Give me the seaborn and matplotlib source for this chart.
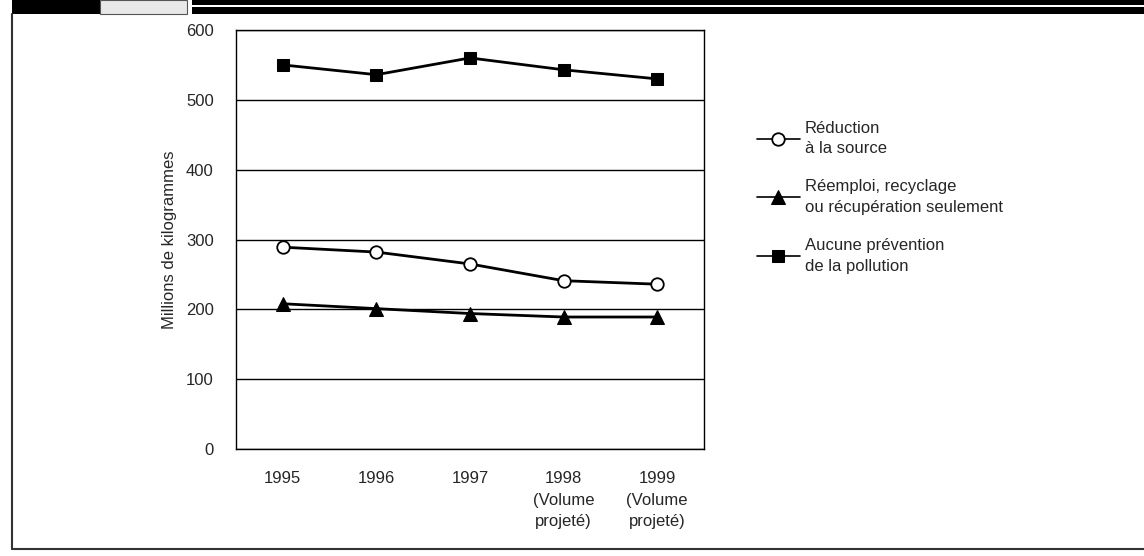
import numpy as np
import pandas as pd
import matplotlib
matplotlib.use('Agg')
import matplotlib.pyplot as plt
from matplotlib.patches import Rectangle
from matplotlib.lines import Line2D
import seaborn as sns

sns.set_style('white')
plt.rcParams['font.family'] = ['Liberation Sans Narrow', 'Liberation Sans', 'DejaVu Sans']

# Data
years = ['1995', '1996', '1997', '1998\n(Volume\nprojeté)', '1999\n(Volume\nprojeté)']
reduction = [289, 282, 265, 241, 236]
reemploi = [208, 201, 194, 189, 189]
aucune = [550, 536, 560, 543, 530]
labels = ['Réduction\nà la source',
          'Réemploi, recyclage\nou récupération seulement',
          'Aucune prévention\nde la pollution']

W, H = 1144, 556
fig = plt.figure(figsize=(W / 100, H / 100), dpi=100)

def fx(px):
    return px / W

def fy(py):
    return 1 - py / H

# header banner
fig.patches.append(Rectangle((fx(12), fy(14)), fx(88), 14 / H, transform=fig.transFigure,
                             facecolor='black', edgecolor='none'))
fig.patches.append(Rectangle((fx(100), fy(14)), fx(87), 14 / H, transform=fig.transFigure,
                             facecolor='#e8e8e8', edgecolor='#555555', lw=0.8))
fig.patches.append(Rectangle((fx(192), fy(5)), fx(952), 5 / H, transform=fig.transFigure,
                             facecolor='black', edgecolor='none'))
fig.patches.append(Rectangle((fx(192), fy(14)), fx(952), 7 / H, transform=fig.transFigure,
                             facecolor='black', edgecolor='none'))
# frame
fig.lines.append(Line2D([fx(12), fx(12)], [fy(14), fy(549)], transform=fig.transFigure,
                        color='#333333', lw=1.5))
fig.lines.append(Line2D([fx(12), 1], [fy(549), fy(549)], transform=fig.transFigure,
                        color='#333333', lw=1.5))

ax = fig.add_axes([fx(236), fy(449), fx(468), (449 - 30) / H])

x = np.arange(len(years))
df = pd.DataFrame({'x': x, 'reduction': reduction, 'reemploi': reemploi, 'aucune': aucune})

sns.lineplot(data=df, x='x', y='reduction', ax=ax, color='black', lw=2,
             marker='o', markersize=9, markerfacecolor='white', markeredgecolor='black',
             markeredgewidth=1.3, label=labels[0])
sns.lineplot(data=df, x='x', y='reemploi', ax=ax, color='black', lw=2,
             marker='^', markersize=10, markerfacecolor='black', markeredgecolor='black',
             label=labels[1])
sns.lineplot(data=df, x='x', y='aucune', ax=ax, color='black', lw=2,
             marker='s', markersize=9, markerfacecolor='black', markeredgecolor='black',
             label=labels[2])

ax.set_xlim(-0.5, len(years) - 0.5)
ax.set_ylim(0, 600)
ax.set_yticks(range(0, 601, 100))
ax.yaxis.grid(True, color='black', lw=1)
ax.set_axisbelow(True)
for s in ax.spines.values():
    s.set_color('black')
    s.set_linewidth(1)

ax.set_xticks(np.arange(-0.5, len(years)), labels=[''] * (len(years) + 1))
ax.set_xticks(x, labels=years, minor=True)
ax.tick_params(axis='x', which='major', direction='out', length=4, width=1, color='black')
ax.tick_params(axis='x', which='minor', length=0, pad=16, labelsize=12)
ax.tick_params(axis='y', direction='out', length=4, width=1, color='black', pad=12, labelsize=12)
for t in ax.get_xticklabels(minor=True):
    t.set_linespacing(1.55)
    t.set_verticalalignment('top')

ax.set_xlabel('')
ax.set_ylabel('Millions de kilogrammes', fontsize=12, labelpad=0)
ax.yaxis.set_label_coords(fx(177 - 236) / fx(468), 0.5)

leg = ax.legend(loc='upper left', bbox_to_anchor=(fx(750), fy(114)), bbox_transform=fig.transFigure,
                frameon=False, fontsize=12, handlelength=2.6, handletextpad=0.3, labelspacing=1.4,
                borderaxespad=0)
for t in leg.get_texts():
    t.set_linespacing(1.45)
for line in leg.get_lines():
    line.set_linewidth(1.2)

fig.savefig('out.png', dpi=100)
